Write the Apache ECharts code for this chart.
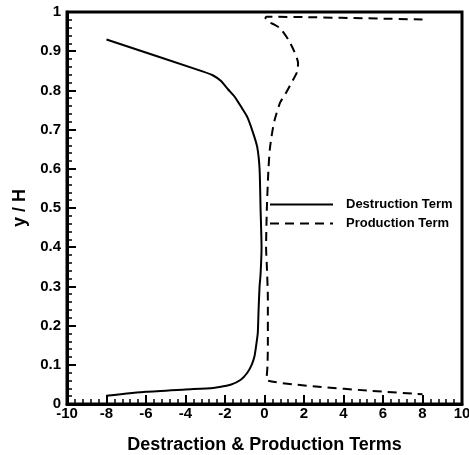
<!DOCTYPE html>
<html>
<head>
<meta charset="utf-8">
<script src="https://cdn.jsdelivr.net/npm/echarts@6/dist/echarts.min.js"></script>
<style>html,body{margin:0;padding:0;background:#fff}#c{width:469px;height:455px}</style>
</head>
<body>
<div id="c"></div>
<script>
// Destruction term: [x, y/H] pairs, ordered from top to bottom
const destructionX = [-8, -3.1, -2.6, -2.2, -1.85, -1.5, -1.13, -0.88, -0.6, -0.37, -0.25, -0.2, -0.15, -0.2, -0.25, -0.3, -0.34, -0.42, -0.51, -0.65, -0.88, -1.2, -1.72, -2.2, -2.6, -4, -6, -8];
const destructionY = [0.93, 0.848, 0.838, 0.824, 0.803, 0.783, 0.754, 0.733, 0.695, 0.656, 0.6, 0.5, 0.4, 0.33, 0.3, 0.24, 0.181, 0.15, 0.121, 0.1, 0.079, 0.062, 0.049, 0.044, 0.041, 0.037, 0.031, 0.021];
// Production term
const productionX = [8, 0.1, 0.05, 0.2, 0.5, 0.8, 1.2, 1.5, 1.7, 1.65, 1.35, 1.05, 0.8, 0.6, 0.47, 0.35, 0.27, 0.2, 0.12, 0.08, 0.12, 0.17, 0.17, 0.15, 0.1, 8];
const productionY = [0.981, 0.988, 0.985, 0.975, 0.968, 0.958, 0.93, 0.9, 0.87, 0.847, 0.818, 0.79, 0.77, 0.74, 0.716, 0.68, 0.65, 0.6, 0.5, 0.4, 0.35, 0.27, 0.15, 0.096, 0.062, 0.025];
const seriesNames = ['Destruction Term', 'Production Term'];
const xTicks = { min: -10, max: 10, interval: 2 };
const yTicks = { min: 0, max: 1, interval: 0.1 };

const FONT = "'Liberation Sans', Arial, sans-serif";
const zip = (xs, ys) => xs.map((x, i) => [x, ys[i]]);

const chart = echarts.init(document.getElementById('c'), null, { renderer: 'canvas' });
chart.setOption({
  animation: false,
  backgroundColor: '#fff',
  grid: { left: 67, right: 7, top: 12, bottom: 51, containLabel: false, outerBoundsMode: 'none',
          show: true, borderColor: '#000', borderWidth: 3, backgroundColor: 'transparent' },
  legend: {
    orient: 'vertical', left: 269, top: 198, padding: 0, itemWidth: 63, itemHeight: 14, itemGap: 6,
    data: seriesNames,
    itemStyle: { color: 'rgba(0,0,0,0)', borderColor: 'rgba(0,0,0,0)', borderWidth: 0, opacity: 0 },
    textStyle: { fontFamily: FONT, fontWeight: 'bold', fontSize: 13, color: '#000', padding: [0, 0, 0, 8] }
  },
  xAxis: {
    type: 'value', min: xTicks.min, max: xTicks.max, interval: xTicks.interval,
    name: 'Destraction & Production Terms', nameLocation: 'middle', nameGap: 32,
    nameTextStyle: { fontFamily: FONT, fontWeight: 'bold', fontSize: 18, color: '#000' },
    axisLine: { show: true, onZero: false, lineStyle: { color: '#000', width: 3 } },
    axisTick: { show: true, inside: true, length: 9, lineStyle: { color: '#000', width: 2 } },
    minorTick: { show: true, splitNumber: 5, length: 5, lineStyle: { color: '#000', width: 1.5 } },
    splitLine: { show: false },
    axisLabel: { fontFamily: FONT, fontWeight: 'bold', fontSize: 15, color: '#000', margin: 2 }
  },
  yAxis: {
    type: 'value', min: yTicks.min, max: yTicks.max, interval: yTicks.interval,
    name: 'y / H', nameLocation: 'middle', nameGap: 38, nameRotate: 90,
    nameTextStyle: { fontFamily: FONT, fontWeight: 'bold', fontSize: 18, color: '#000' },
    axisLine: { show: true, onZero: false, lineStyle: { color: '#000', width: 3 } },
    axisTick: { show: true, inside: true, length: 9, lineStyle: { color: '#000', width: 2 } },
    minorTick: { show: true, splitNumber: 5, length: 5, lineStyle: { color: '#000', width: 1.5 } },
    splitLine: { show: false },
    axisLabel: { fontFamily: FONT, fontWeight: 'bold', fontSize: 15, color: '#000', margin: 6 }
  },
  series: [
    { name: seriesNames[0], type: 'line', data: zip(destructionX, destructionY), showSymbol: false, symbol: 'none', smooth: 0.2,
      lineStyle: { color: '#000', width: 2, type: 'solid' }, itemStyle: { color: '#000' } },
    { name: seriesNames[1], type: 'line', data: zip(productionX, productionY), showSymbol: false, symbol: 'none', smooth: 0.2,
      lineStyle: { color: '#000', width: 2, type: [9, 6] }, itemStyle: { color: '#000' } }
  ]
});
</script>
</body>
</html>
